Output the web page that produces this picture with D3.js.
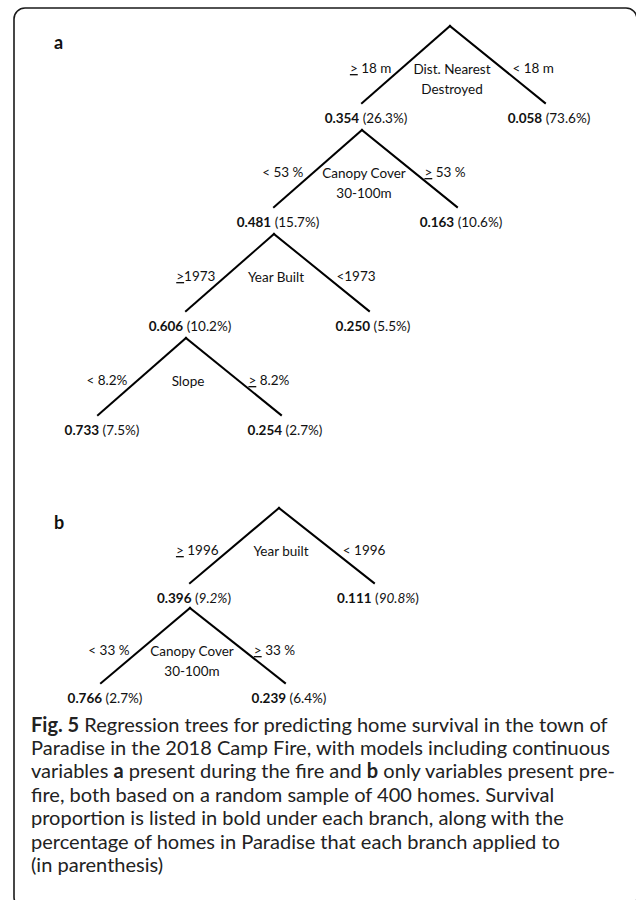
<!DOCTYPE html>
<html>
<head>
<meta charset="utf-8">
<script src="https://cdn.jsdelivr.net/npm/d3@7"></script>
<style>
  html, body { margin: 0; padding: 0; background: #fff; }
  svg { display: block; }
</style>
</head>
<body>
<svg id="fig" width="636" height="900"></svg>
<script>
// ---- Panel a: tree fitted with variables present during the fire ----
const aSplitVars = [["Dist. Nearest", "Destroyed"], ["Canopy Cover", "30-100m"], ["Year Built"], ["Slope"]];
const aLeftRules = ["≥ 18 m", "< 53 %", "≥1973", "< 8.2%"];
const aRightRules = ["< 18 m", "≥ 53 %", "<1973", "≥ 8.2%"];
const aLeftSurvival = [0.354, 0.481, 0.606, 0.733];
const aLeftShare = [26.3, 15.7, 10.2, 7.5];
const aRightSurvival = [0.058, 0.163, 0.250, 0.254];
const aRightShare = [73.6, 10.6, 5.5, 2.7];

// ---- Panel b: tree fitted with pre-fire variables only ----
const bSplitVars = [["Year built"], ["Canopy Cover", "30-100m"]];
const bLeftRules = ["≥ 1996", "< 33 %"];
const bRightRules = ["< 1996", "≥ 33 %"];
const bLeftSurvival = [0.396, 0.766];
const bLeftShare = [9.2, 2.7];
const bRightSurvival = [0.111, 0.239];
const bRightShare = [90.8, 6.4];

const captionLines = [
  [["Fig. 5", true], [" Regression trees for predicting home survival in the town of", false]],
  [["Paradise in the 2018 Camp Fire, with models including continuous", false]],
  [["variables ", false], ["a", true], [" present during the fire and ", false], ["b", true], [" only variables present pre-", false]],
  [["fire, both based on a random sample of 400 homes. Survival", false]],
  [["proportion is listed in bold under each branch, along with the", false]],
  [["percentage of homes in Paradise that each branch applied to", false]],
  [["(in parenthesis)", false]]
];

const svg = d3.select("#fig");
svg.append("rect").attr("width", 636).attr("height", 900).attr("fill", "#fff");

// framing box (only the top and left edges fall inside the page)
svg.append("rect")
  .attr("x", 14).attr("y", 8).attr("width", 623).attr("height", 900)
  .attr("rx", 11).attr("fill", "none")
  .attr("stroke", "#1a1a1a").attr("stroke-width", 1.6);

const treeFont = "Lato, 'Open Sans', sans-serif";
const fmtSurv = d3.format(".3f");
const fmtShare = d3.format(".1f");

// Build a chain-shaped tree where the left branch keeps splitting
function buildTree(p) {
  function split(i) {
    const left = { survival: p.lSurv[i], share: p.lShare[i], side: 0 };
    if (i + 1 < p.vars.length) Object.assign(left, split(i + 1));
    return {
      vars: p.vars[i],
      rules: [p.lRules[i], p.rRules[i]],
      children: [left, { survival: p.rSurv[i], share: p.rShare[i], side: 1 }]
    };
  }
  return d3.hierarchy(split(0));
}

// Draw a rule label, turning "≥" into an underlined ">"
function ruleText(sel, rule) {
  const parts = rule.split("≥");
  parts.forEach((part, i) => {
    if (i > 0) sel.append("tspan").text(">").attr("text-decoration", "underline");
    if (part) sel.append("tspan").text(part);
  });
}

function drawTree(opts) {
  const root = buildTree(opts.data);
  const y = d3.scaleLinear().domain([0, 1]).range([opts.top, opts.top + opts.step]);
  const spread = d3.scaleOrdinal().domain([0, 1]).range([-opts.left, opts.right]);

  root.eachBefore(n => {
    n.x = n.parent ? n.parent.x + spread(n.data.side) : opts.rootX;
    n.apexY = y(n.depth);
    n.endY = n.parent ? y(n.parent.depth) + opts.drop : n.apexY;
  });

  const g = svg.append("g").attr("font-family", treeFont).attr("fill", "#111");

  // branches
  g.selectAll("line.branch")
    .data(root.descendants().filter(n => n.parent))
    .join("line")
    .attr("class", "branch")
    .attr("x1", n => n.parent.x).attr("y1", n => n.parent.apexY)
    .attr("x2", n => n.x).attr("y2", n => n.endY)
    .attr("stroke", "#000").attr("stroke-width", 2).attr("stroke-linecap", "square");

  const splits = root.descendants().filter(n => n.children);

  // splitting variable, centred under each apex
  splits.forEach(n => {
    const t = g.append("text").attr("text-anchor", "middle").attr("font-size", 13.5);
    n.data.vars.forEach((v, i) => {
      t.append("tspan").attr("x", n.x + 2).attr("y", n.apexY + 47.5 + i * 20.5).text(v);
    });

    // split rules beside each branch
    const cy = n.apexY + 42.5;
    n.children.forEach((c, k) => {
      const frac = (cy - n.apexY) / (c.endY - n.apexY);
      const lx = n.x + (c.x - n.x) * frac;
      const t2 = g.append("text")
        .attr("x", k === 0 ? lx - 10 : lx + 10)
        .attr("y", cy + 4.5)
        .attr("font-size", 13.5)
        .attr("text-anchor", k === 0 ? "end" : "start");
      ruleText(t2, n.data.rules[k]);
    });
  });

  // survival proportion (bold) and share of homes under each branch end
  root.descendants().filter(n => n.parent).forEach(n => {
    const t = g.append("text")
      .attr("x", n.x + 4).attr("y", n.endY + 19.5)
      .attr("text-anchor", "middle").attr("font-size", 13.5);
    t.append("tspan").attr("font-weight", "bold").text(fmtSurv(n.data.survival));
    t.append("tspan").text(" (");
    t.append("tspan")
      .attr("font-style", opts.italicDepth === n.depth ? "italic" : "normal")
      .text(fmtShare(n.data.share) + "%");
    t.append("tspan").text(")");
  });

  svg.append("text")
    .attr("x", opts.labelX).attr("y", opts.labelY)
    .attr("font-family", treeFont).attr("font-weight", "bold")
    .attr("font-size", 18).attr("fill", "#111")
    .text(opts.label);
}

drawTree({
  label: "a", labelX: 54, labelY: 49,
  rootX: 450, top: 26, step: 104, drop: 77, left: 88, right: 95,
  italicDepth: -1,
  data: { vars: aSplitVars, lRules: aLeftRules, rRules: aRightRules,
          lSurv: aLeftSurvival, lShare: aLeftShare, rSurv: aRightSurvival, rShare: aRightShare }
});

drawTree({
  label: "b", labelX: 54, labelY: 529,
  rootX: 279, top: 508, step: 100, drop: 75, left: 89, right: 95,
  italicDepth: 1,
  data: { vars: bSplitVars, lRules: bLeftRules, rRules: bRightRules,
          lSurv: bLeftSurvival, lShare: bLeftShare, rSurv: bRightSurvival, rShare: bRightShare }
});

// caption
const cap = svg.append("g")
  .attr("font-family", "Lato, 'Open Sans', sans-serif")
  .attr("fill", "#222");
const capText = captionLines.map((line, i) => {
  const t = cap.append("text").attr("x", 31).attr("y", 731.5 + i * 23.4).attr("font-size", 18);
  line.forEach(([s, bold]) => {
    t.append("tspan").attr("font-weight", bold ? "bold" : "normal").text(s);
  });
  return t;
});
// size the caption so its first line spans the text column
const firstLen = capText[0].node().getComputedTextLength();
const capSize = 18 * 577 / firstLen;
capText.forEach(t => t.attr("font-size", capSize));
</script>
</body>
</html>
